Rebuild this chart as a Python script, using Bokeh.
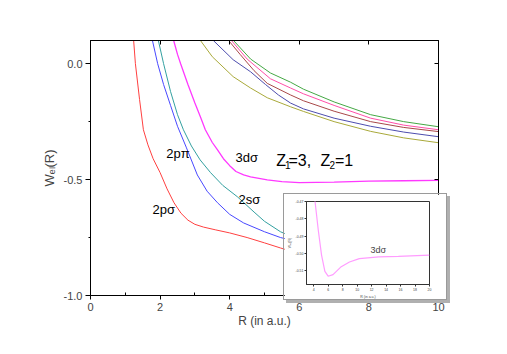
from bokeh.plotting import figure
from bokeh.models import LinearAxis, Range1d, Label, FixedTicker, PrintfTickFormatter
from bokeh.embed import file_html
from bokeh.resources import INLINE

FONT = "Liberation Sans"

# ---- data ----
r_2psig = [1.18, 1.24, 1.29, 1.41, 1.52, 1.65, 1.8, 2.0, 2.2, 2.4, 2.6, 2.8, 3.0, 3.25, 3.6, 4.0, 4.5, 5.0, 5.46, 6.0, 7.0, 8.0, 10.0]
w_2psig = [0.25, 0.1, 0.0, -0.155, -0.285, -0.35, -0.41, -0.47, -0.54, -0.6, -0.645, -0.675, -0.693, -0.705, -0.717, -0.73, -0.75, -0.773, -0.795, -0.82, -0.86, -0.89, -0.93]

r_2ppi = [1.72, 1.78, 1.93, 2.1, 2.3, 2.5, 2.75, 3.07, 3.35, 3.65, 4.0, 4.4, 5.0, 5.46, 6.0, 7.0, 8.0, 10.0]
w_2ppi = [0.2, 0.1, 0.0, -0.09, -0.18, -0.27, -0.36, -0.48, -0.55, -0.6, -0.65, -0.687, -0.725, -0.75, -0.77, -0.8, -0.82, -0.85]

r_2ssig = [1.9, 1.95, 2.1, 2.3, 2.5, 2.67, 2.9, 3.15, 3.45, 3.8, 4.22, 4.7, 5.0, 5.46, 6.0, 7.0, 8.0, 10.0]
w_2ssig = [0.15, 0.1, 0.0, -0.12, -0.22, -0.285, -0.355, -0.415, -0.47, -0.525, -0.574, -0.64, -0.68, -0.725, -0.76, -0.8, -0.83, -0.87]

r_3dsig = [2.3, 2.39, 2.5, 2.59, 2.8, 3.0, 3.16, 3.3, 3.5, 3.64, 3.82, 4.0, 4.18, 4.4, 4.6, 5.08, 5.5, 6.0, 7.0, 8.0, 9.0, 10.0]
w_3dsig = [0.15, 0.1, 0.04, 0.0, -0.09, -0.17, -0.23, -0.285, -0.34, -0.37, -0.41, -0.44, -0.465, -0.48, -0.488, -0.501, -0.509, -0.513, -0.511, -0.507, -0.505, -0.503]

r_olive = [3.0, 3.16, 3.5, 4.1, 4.6, 5.08, 5.75, 6.12, 7.0, 8.05, 9.0, 10.0]
w_olive = [0.17, 0.1, 0.03, -0.056, -0.105, -0.147, -0.186, -0.206, -0.25, -0.292, -0.32, -0.341]

r_navy = [3.4, 3.53, 4.1, 4.6, 5.03, 5.4, 5.75, 6.12, 7.0, 8.05, 9.0, 10.0]
w_navy = [0.14, 0.1, 0.017, -0.035, -0.09, -0.135, -0.17, -0.195, -0.235, -0.27, -0.295, -0.315]

r_brown = [3.9, 3.97, 4.3, 4.7, 5.08, 5.75, 6.12, 7.0, 8.05, 9.0, 10.0]
w_brown = [0.13, 0.1, 0.04, -0.03, -0.085, -0.135, -0.16, -0.205, -0.25, -0.275, -0.293]

r_pink = [4.0, 4.05, 4.5, 5.17, 5.75, 6.12, 7.0, 8.05, 9.0, 10.0]
w_pink = [0.13, 0.1, 0.02, -0.065, -0.105, -0.13, -0.18, -0.235, -0.265, -0.285]

r_green = [4.05, 4.11, 4.6, 5.17, 5.75, 6.12, 7.0, 8.05, 9.0, 10.0]
w_green = [0.13, 0.1, 0.02, -0.04, -0.08, -0.11, -0.165, -0.22, -0.25, -0.272]

# inset: 3dσ close-up
r_inset = [4.0, 4.18, 4.63, 5.08, 5.54, 5.99, 6.67, 7.8, 8.94, 10.3, 13.0, 15.7, 20.0]
w_inset = [-0.46, -0.47, -0.4866, -0.501, -0.5104, -0.5132, -0.5123, -0.5077, -0.505, -0.503, -0.502, -0.5017, -0.501]

x_ticks = [0, 2, 4, 6, 8, 10]
y_ticks = [-1.0, -0.5, 0.0]
inset_x_ticks = [4, 6, 8, 10, 12, 14, 16, 18, 20]
inset_y_ticks = [-0.51, -0.50, -0.49, -0.48, -0.47]

# ---- main figure ----
p = figure(width=499, height=346, x_range=Range1d(0, 10), y_range=Range1d(-1.0, 0.1),
           output_backend="svg", toolbar_location=None,
           x_axis_location=None, y_axis_location=None,
           min_border_left=90, min_border_right=61, min_border_top=40, min_border_bottom=51)
p.grid.visible = False
p.outline_line_color = "black"
p.outline_line_width = 1
p.background_fill_color = "white"
p.border_fill_color = "white"

xb = LinearAxis(ticker=FixedTicker(ticks=x_ticks, minor_ticks=[1, 3, 5, 7, 9]))
xb.axis_label = "R (in a.u.)"
xb.axis_label_text_font = FONT
xb.axis_label_text_font_size = "12px"
xb.axis_label_text_font_style = "normal"
xb.axis_label_standoff = 0
xb.major_label_text_font = FONT
xb.major_label_text_font_size = "11px"
xb.major_tick_out = 4
xb.major_tick_in = 0
xb.minor_tick_in = 3
xb.minor_tick_out = 0
xb.major_label_standoff = 3
p.add_layout(xb, "below")

yl = LinearAxis(ticker=FixedTicker(ticks=y_ticks, minor_ticks=[-0.75, -0.25]),
                formatter=PrintfTickFormatter(format="%.1f"))
yl.axis_label = "Wₑₗ(R)"
yl.axis_label_text_font = FONT
yl.axis_label_text_font_size = "13px"
yl.axis_label_text_font_style = "normal"
yl.axis_label_standoff = 4
yl.major_label_text_font = FONT
yl.major_label_text_font_size = "11px"
yl.major_tick_out = 5
yl.major_tick_in = 0
yl.minor_tick_out = 2
yl.minor_tick_in = 0
yl.major_label_standoff = 3
p.add_layout(yl, "left")

xt = LinearAxis(ticker=FixedTicker(ticks=x_ticks, minor_ticks=[]))
xt.major_label_text_alpha = 0
xt.major_label_text_font_size = "1px"
xt.major_tick_in = 4
xt.major_tick_out = 0
p.add_layout(xt, "above")

yr = LinearAxis(ticker=FixedTicker(ticks=y_ticks, minor_ticks=[]))
yr.major_label_text_alpha = 0
yr.major_label_text_font_size = "1px"
yr.major_tick_in = 4
yr.major_tick_out = 0
p.add_layout(yr, "right")

lw = 1.0
p.line(r_olive, w_olive, line_color="#a9a93a", line_width=lw)
p.line(r_navy, w_navy, line_color="#4d4dae", line_width=lw)
p.line(r_brown, w_brown, line_color="#a84848", line_width=lw)
p.line(r_pink, w_pink, line_color="#ff4fa8", line_width=lw)
p.line(r_green, w_green, line_color="#45a845", line_width=lw)
p.line(r_2psig, w_2psig, line_color="#ff4040", line_width=lw)
p.line(r_2ppi, w_2ppi, line_color="#4848ff", line_width=lw)
p.line(r_2ssig, w_2ssig, line_color="#33a0a0", line_width=lw)
p.line(r_3dsig, w_3dsig, line_color="#ff38ff", line_width=1.3)

def lab(fig, text, x, y, size, units="data", **kw):
    L = Label(x=x, y=y, x_units=units, y_units=units, text=text, text_font=FONT,
              text_font_size=size, text_color="black", text_baseline=kw.pop("baseline", "middle"),
              text_align=kw.pop("align", "left"), **kw)
    fig.add_layout(L)

lab(p, "2pπ", 2.18, -0.389, "13px")
lab(p, "3dσ", 4.17, -0.406, "13px")
lab(p, "2sσ", 4.25, -0.587, "13px")
lab(p, "2pσ", 1.78, -0.63, "13px")

# Z1=3,  Z2=1 (frame-relative screen coordinates, pieces for subscripts)
lab(p, "Z", 185.7, 135, "16px", units="screen", baseline="alphabetic")
lab(p, "1", 194.5, 131, "10px", units="screen", baseline="alphabetic")
lab(p, "=3,", 198, 135, "16px", units="screen", baseline="alphabetic")
lab(p, "Z", 230, 135, "16px", units="screen", baseline="alphabetic")
lab(p, "2", 239, 131, "10px", units="screen", baseline="alphabetic")
lab(p, "=1", 244.5, 135, "16px", units="screen", baseline="alphabetic")

# ---- inset ----
ins = figure(width=164, height=107, x_range=Range1d(3, 20), y_range=Range1d(-0.518, -0.47),
             output_backend="svg", toolbar_location=None,
             min_border_left=20, min_border_right=19, min_border_top=7, min_border_bottom=13,
             styles={"position": "absolute", "left": "283px", "top": "193px",
                     "border": "1px solid #9a9a9a", "box-shadow": "3px 3px 0px #b0b0b0"})
ins.outline_line_color = "#333333"
ins.grid.visible = False
ins.xaxis.ticker = FixedTicker(ticks=inset_x_ticks, minor_ticks=[])
ins.yaxis.ticker = FixedTicker(ticks=inset_y_ticks, minor_ticks=[])
ins.yaxis.formatter = PrintfTickFormatter(format="%.2f")
for ax in (ins.xaxis[0], ins.yaxis[0]):
    ax.major_label_text_font = FONT
    ax.major_label_text_font_size = "3.5px"
    ax.major_tick_out = 2
    ax.major_tick_in = 0
    ax.major_label_standoff = 1
    ax.axis_label_text_font = FONT
    ax.axis_label_text_font_size = "3.5px"
    ax.axis_label_text_font_style = "normal"
    ax.axis_label_standoff = 1
    ax.axis_line_color = "#333333"
    ax.major_tick_line_color = "#333333"
ins.xaxis.axis_label = "R (in a.u.)"
ins.yaxis.axis_label = "Wₑₗ(R)"
ins.line(r_inset, w_inset, line_color="#ff9cff", line_width=1.2)
ins.add_layout(Label(x=11.84, y=-0.498, text="3dσ", text_font=FONT, text_font_size="9px",
                     text_baseline="middle", text_align="left"))

open("out.html", "w").write(file_html([p, ins], INLINE))
